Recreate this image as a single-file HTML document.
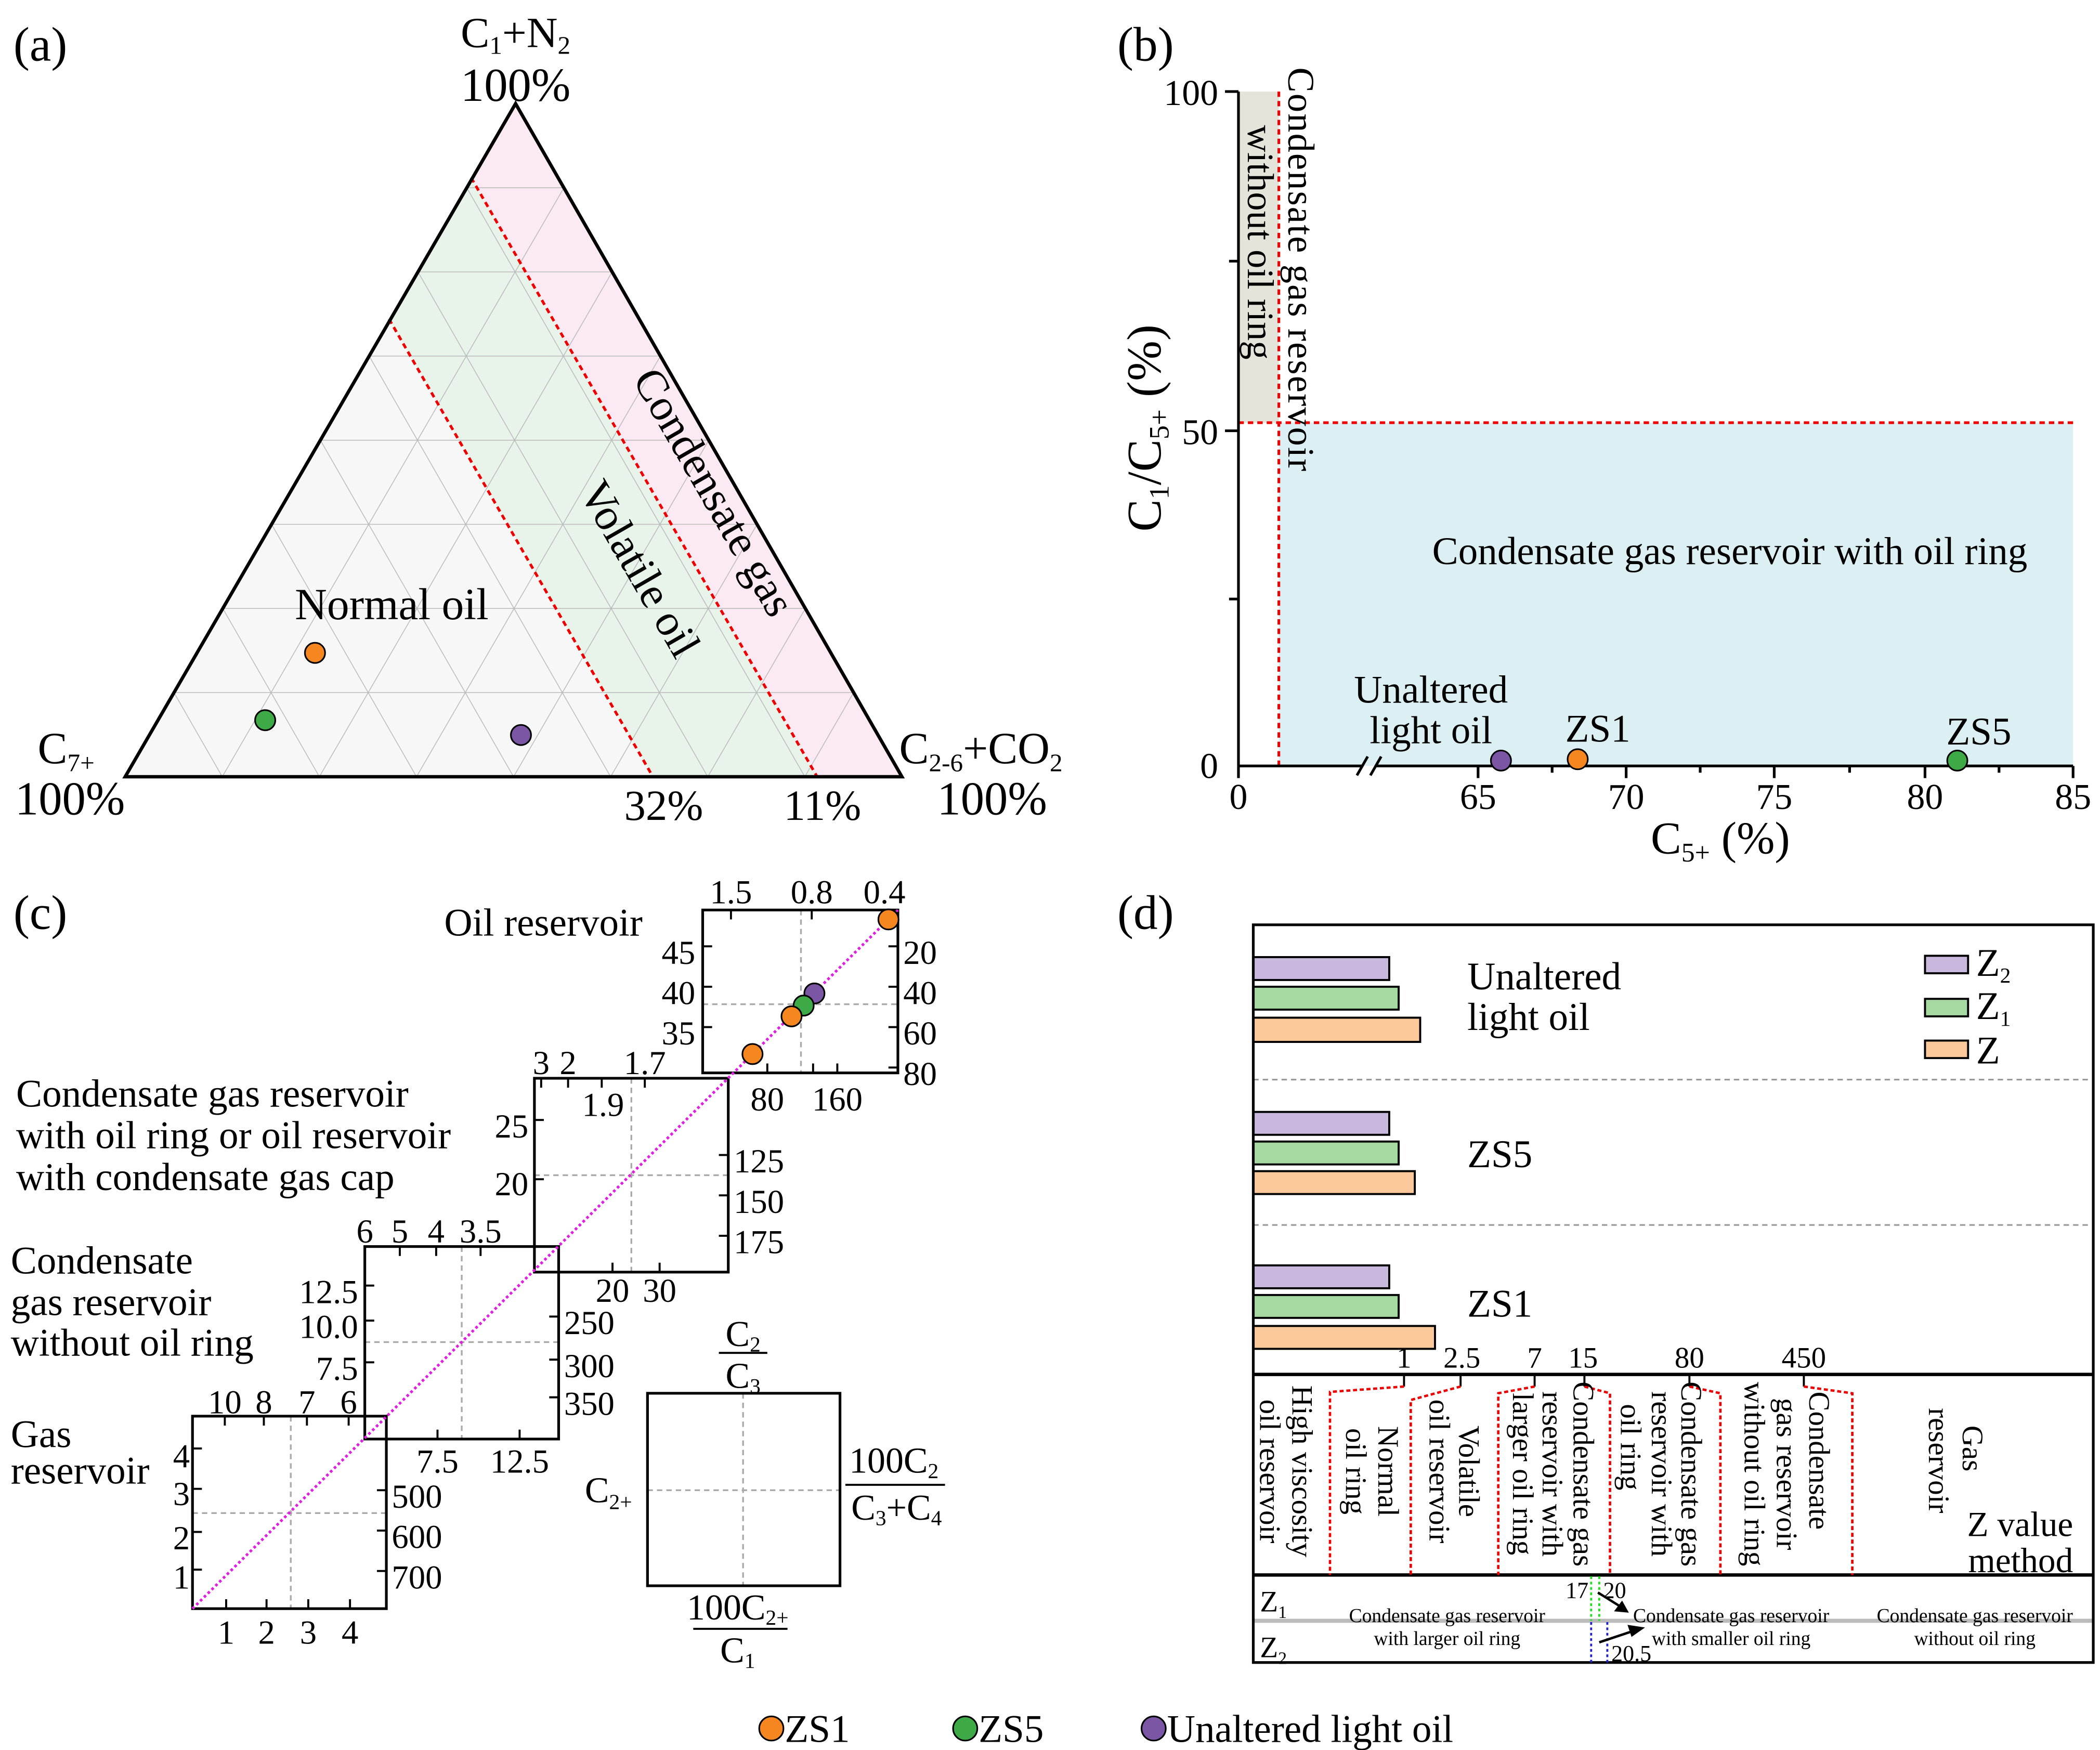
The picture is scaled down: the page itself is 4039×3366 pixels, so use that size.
<!DOCTYPE html>
<html><head><meta charset="utf-8"><style>
html,body{margin:0;padding:0;background:#fff;}
svg{display:block;}
text{font-family:"Liberation Serif",serif;fill:#000;}
</style></head><body>
<svg width="4039" height="3366" viewBox="0 0 1560 1300" preserveAspectRatio="none" xmlns="http://www.w3.org/2000/svg">
<rect width="1560" height="1300" fill="#fff"/>
<!-- ===== (a) ===== -->
<text x="10" y="45" font-size="36">(a)</text>
<polygon points="383,77 93,577 670,577" fill="#f7f7f7"/>
<polygon points="383,77 670,577 607,577 350,132" fill="#fbe9f4"/>
<polygon points="350,132 607,577 485,577 289,237" fill="#e8f3ea"/>
<g stroke="#bbb" stroke-width="0.6">
<line x1="346.75" y1="139.5" x2="418.9" y2="139.5"/><line x1="310.5" y1="202" x2="454.75" y2="202"/>
<line x1="274.25" y1="264.5" x2="490.6" y2="264.5"/><line x1="238" y1="327" x2="526.5" y2="327"/>
<line x1="201.75" y1="389.5" x2="562.4" y2="389.5"/><line x1="165.5" y1="452" x2="598.25" y2="452"/>
<line x1="129.25" y1="514.5" x2="634.1" y2="514.5"/>
<line x1="165.1" y1="577" x2="418.9" y2="139.5"/><line x1="237.25" y1="577" x2="454.75" y2="202"/>
<line x1="309.4" y1="577" x2="490.6" y2="264.5"/><line x1="381.5" y1="577" x2="526.5" y2="327"/>
<line x1="453.6" y1="577" x2="562.4" y2="389.5"/><line x1="525.75" y1="577" x2="598.25" y2="452"/>
<line x1="597.9" y1="577" x2="634.1" y2="514.5"/>
<line x1="165.1" y1="577" x2="129.25" y2="514.5"/><line x1="237.25" y1="577" x2="165.5" y2="452"/>
<line x1="309.4" y1="577" x2="201.75" y2="389.5"/><line x1="381.5" y1="577" x2="238" y2="327"/>
<line x1="453.6" y1="577" x2="274.25" y2="264.5"/><line x1="525.75" y1="577" x2="310.5" y2="202"/>
<line x1="597.9" y1="577" x2="346.75" y2="139.5"/>
</g>
<g stroke="#e00" stroke-width="2" stroke-dasharray="4,3">
<line x1="350" y1="132" x2="607" y2="577"/><line x1="289" y1="237" x2="485" y2="577"/>
</g>
<polygon points="383,77 93,577 670,577" fill="none" stroke="#000" stroke-width="2.5"/>
<circle cx="234" cy="485" r="7.5" fill="#f6861f" stroke="#000" stroke-width="1.2"/>
<circle cx="197" cy="535" r="7.5" fill="#3daa47" stroke="#000" stroke-width="1.2"/>
<circle cx="387" cy="546" r="7.5" fill="#7b56a4" stroke="#000" stroke-width="1.2"/>
<text x="383" y="35" font-size="32" text-anchor="middle">C<tspan font-size="19" dy="5">1</tspan><tspan dy="-5">+N</tspan><tspan font-size="19" dy="5">2</tspan></text>
<text x="383" y="75" font-size="35" text-anchor="middle">100%</text>
<text x="28" y="567" font-size="33">C<tspan font-size="19" dy="6">7+</tspan></text>
<text x="52" y="605" font-size="35" text-anchor="middle">100%</text>
<text x="668" y="567" font-size="33">C<tspan font-size="19" dy="6">2-6</tspan><tspan dy="-6">+CO</tspan><tspan font-size="19" dy="6">2</tspan></text>
<text x="737" y="605" font-size="35" text-anchor="middle">100%</text>
<text x="493" y="609" font-size="32" text-anchor="middle">32%</text>
<text x="611" y="609" font-size="32" text-anchor="middle">11%</text>
<text x="291" y="460" font-size="33" text-anchor="middle">Normal oil</text>
<text x="466" y="428" font-size="33" text-anchor="middle" transform="rotate(60 466 428)">Volatile oil</text>
<text x="521" y="371" font-size="33" text-anchor="middle" transform="rotate(60 521 371)">Condensate gas</text>

<!-- ===== (b) ===== -->
<text x="830" y="45" font-size="36">(b)</text>
<rect x="920" y="68" width="30" height="246" fill="#e5e4da"/>
<rect x="950" y="314" width="590" height="255" fill="#dcf0f4"/>
<g stroke="#e00" stroke-width="2" stroke-dasharray="4,3">
<line x1="950" y1="68" x2="950" y2="569"/><line x1="920" y1="314" x2="1540" y2="314"/>
</g>
<g stroke="#000" stroke-width="2" fill="none">
<line x1="920" y1="68" x2="920" y2="569"/>
<line x1="920" y1="569" x2="1012" y2="569"/><line x1="1022" y1="569" x2="1540" y2="569"/>
<line x1="1008" y1="576" x2="1016" y2="562"/><line x1="1018" y1="576" x2="1026" y2="562"/>
<line x1="910" y1="68" x2="920" y2="68"/><line x1="910" y1="320" x2="920" y2="320"/>
<line x1="913" y1="194" x2="920" y2="194"/><line x1="913" y1="445" x2="920" y2="445"/>
<line x1="920" y1="569" x2="920" y2="578"/>
<line x1="1098" y1="569" x2="1098" y2="578"/><line x1="1208" y1="569" x2="1208" y2="578"/>
<line x1="1318" y1="569" x2="1318" y2="578"/><line x1="1430" y1="569" x2="1430" y2="578"/>
<line x1="1540" y1="569" x2="1540" y2="578"/>
<line x1="1153" y1="569" x2="1153" y2="574"/><line x1="1263" y1="569" x2="1263" y2="574"/>
<line x1="1374" y1="569" x2="1374" y2="574"/><line x1="1485" y1="569" x2="1485" y2="574"/>
</g>
<text x="905" y="78" font-size="27" text-anchor="end">100</text>
<text x="905" y="330" font-size="27" text-anchor="end">50</text>
<text x="905" y="578" font-size="27" text-anchor="end">0</text>
<g font-size="27" text-anchor="middle">
<text x="920" y="601">0</text><text x="1098" y="601">65</text><text x="1208" y="601">70</text>
<text x="1318" y="601">75</text><text x="1430" y="601">80</text><text x="1540" y="601">85</text>
</g>
<text x="1278" y="634" font-size="34" text-anchor="middle">C<tspan font-size="20" dy="6">5+</tspan><tspan dy="-6"> (%)</tspan></text>
<text x="862" y="318" font-size="36" text-anchor="middle" transform="rotate(-90 862 318)">C<tspan font-size="21" dy="6">1</tspan><tspan dy="-6">/C</tspan><tspan font-size="21" dy="6">5+</tspan><tspan dy="-6"> (%)</tspan></text>
<text x="957" y="50" font-size="28" textLength="300" transform="rotate(90 957 50)">Condensate gas reservoir</text>
<text x="927" y="180" font-size="28" text-anchor="middle" transform="rotate(90 927 180)">without oil ring</text>
<text x="1285" y="419" font-size="29" text-anchor="middle">Condensate gas reservoir with oil ring</text>
<text x="1063" y="522" font-size="29" text-anchor="middle">Unaltered</text>
<text x="1063" y="552" font-size="29" text-anchor="middle">light oil</text>
<text x="1187" y="551" font-size="29" text-anchor="middle">ZS1</text>
<text x="1470" y="553" font-size="29" text-anchor="middle">ZS5</text>
<circle cx="1115" cy="565" r="7.5" fill="#7b56a4" stroke="#000" stroke-width="1.2"/>
<circle cx="1172" cy="564" r="7.5" fill="#f6861f" stroke="#000" stroke-width="1.2"/>
<circle cx="1454" cy="565" r="7.5" fill="#3daa47" stroke="#000" stroke-width="1.2"/>

<!-- ===== (c) ===== -->
<text x="10" y="690" font-size="36">(c)</text>
<g stroke="#aaa" stroke-width="1.3" stroke-dasharray="4,3">
<line x1="595" y1="676" x2="595" y2="797"/><line x1="522" y1="746" x2="667" y2="746"/>
<line x1="469" y1="801" x2="469" y2="945"/><line x1="397" y1="873" x2="541" y2="873"/>
<line x1="343" y1="926" x2="343" y2="1069"/><line x1="271" y1="997" x2="415" y2="997"/>
<line x1="216" y1="1052" x2="216" y2="1195"/><line x1="143" y1="1124" x2="287" y2="1124"/>
<line x1="552" y1="1035" x2="552" y2="1178"/><line x1="481" y1="1107" x2="624" y2="1107"/>
</g>
<g fill="none" stroke="#000" stroke-width="2">
<rect x="522" y="676" width="145" height="121"/>
<rect x="397" y="801" width="144" height="144"/>
<rect x="271" y="926" width="144" height="143"/>
<rect x="143" y="1052" width="144" height="143"/>
<rect x="481" y="1035" width="143" height="143"/>
</g>
<g stroke="#000" stroke-width="1.5">
<line x1="543" y1="676" x2="543" y2="683"/><line x1="603" y1="676" x2="603" y2="683"/><line x1="657" y1="676" x2="657" y2="683"/>
<line x1="570" y1="797" x2="570" y2="790"/><line x1="622" y1="797" x2="622" y2="790"/><line x1="604" y1="797" x2="604" y2="790"/>
<line x1="522" y1="703" x2="529" y2="703"/><line x1="522" y1="733" x2="529" y2="733"/><line x1="522" y1="763" x2="529" y2="763"/>
<line x1="667" y1="703" x2="660" y2="703"/><line x1="667" y1="733" x2="660" y2="733"/><line x1="667" y1="763" x2="660" y2="763"/><line x1="667" y1="793" x2="660" y2="793"/>
<line x1="402" y1="801" x2="402" y2="808"/><line x1="422" y1="801" x2="422" y2="808"/><line x1="447" y1="801" x2="447" y2="808"/><line x1="479" y1="801" x2="479" y2="808"/>
<line x1="455" y1="945" x2="455" y2="938"/><line x1="490" y1="945" x2="490" y2="938"/>
<line x1="397" y1="832" x2="404" y2="832"/><line x1="397" y1="876" x2="404" y2="876"/>
<line x1="541" y1="858" x2="534" y2="858"/><line x1="541" y1="888" x2="534" y2="888"/><line x1="541" y1="918" x2="534" y2="918"/>
<line x1="297" y1="926" x2="297" y2="933"/><line x1="324" y1="926" x2="324" y2="933"/><line x1="357" y1="926" x2="357" y2="933"/>
<line x1="325" y1="1069" x2="325" y2="1062"/><line x1="386" y1="1069" x2="386" y2="1062"/>
<line x1="271" y1="955" x2="278" y2="955"/><line x1="271" y1="981" x2="278" y2="981"/><line x1="271" y1="1012" x2="278" y2="1012"/>
<line x1="415" y1="978" x2="408" y2="978"/><line x1="415" y1="1010" x2="408" y2="1010"/><line x1="415" y1="1038" x2="408" y2="1038"/>
<line x1="167" y1="1052" x2="167" y2="1059"/><line x1="196" y1="1052" x2="196" y2="1059"/><line x1="228" y1="1052" x2="228" y2="1059"/><line x1="259" y1="1052" x2="259" y2="1059"/>
<line x1="168" y1="1195" x2="168" y2="1188"/><line x1="198" y1="1195" x2="198" y2="1188"/><line x1="229" y1="1195" x2="229" y2="1188"/><line x1="260" y1="1195" x2="260" y2="1188"/>
<line x1="143" y1="1076" x2="150" y2="1076"/><line x1="143" y1="1106" x2="150" y2="1106"/><line x1="143" y1="1138" x2="150" y2="1138"/><line x1="143" y1="1166" x2="150" y2="1166"/>
<line x1="287" y1="1107" x2="280" y2="1107"/><line x1="287" y1="1137" x2="280" y2="1137"/><line x1="287" y1="1167" x2="280" y2="1167"/>
</g>
<line x1="143" y1="1195" x2="667" y2="676" stroke="#e020e0" stroke-width="2" stroke-dasharray="2,2"/>
<circle cx="660" cy="683" r="7.5" fill="#f6861f" stroke="#000" stroke-width="1.2"/>
<circle cx="605" cy="738" r="7.5" fill="#7b56a4" stroke="#000" stroke-width="1.2"/>
<circle cx="597" cy="747" r="7.5" fill="#3daa47" stroke="#000" stroke-width="1.2"/>
<circle cx="588" cy="755" r="7.5" fill="#f6861f" stroke="#000" stroke-width="1.2"/>
<circle cx="559" cy="783" r="7.5" fill="#f6861f" stroke="#000" stroke-width="1.2"/>
<g font-size="25" text-anchor="middle">
<text x="543" y="671">1.5</text><text x="603" y="671">0.8</text><text x="657" y="671">0.4</text>
<text x="504" y="716">45</text><text x="504" y="746">40</text><text x="504" y="776">35</text>
<text x="570" y="825">80</text><text x="622" y="825">160</text>
<text x="402" y="798">3</text><text x="422" y="798">2</text><text x="479" y="798">1.7</text><text x="448" y="829">1.9</text>
<text x="380" y="845">25</text><text x="380" y="888">20</text>
<text x="455" y="967">20</text><text x="490" y="967">30</text>
<text x="271" y="923">6</text><text x="297" y="923">5</text><text x="324" y="923">4</text><text x="357" y="923">3.5</text>
<text x="325" y="1094">7.5</text><text x="386" y="1094">12.5</text>
<text x="167" y="1050">10</text><text x="196" y="1050">8</text><text x="228" y="1050">7</text><text x="259" y="1050">6</text>
<text x="168" y="1221">1</text><text x="198" y="1221">2</text><text x="229" y="1221">3</text><text x="260" y="1221">4</text>
</g>
<g font-size="25">
<text x="671" y="716">20</text><text x="671" y="746">40</text><text x="671" y="776">60</text><text x="671" y="806">80</text>
<text x="545" y="871">125</text><text x="545" y="901">150</text><text x="545" y="931">175</text>
<text x="419" y="991">250</text><text x="419" y="1023">300</text><text x="419" y="1051">350</text>
<text x="291" y="1120">500</text><text x="291" y="1150">600</text><text x="291" y="1180">700</text>
</g>
<g font-size="25" text-anchor="end">
<text x="266" y="968">12.5</text><text x="266" y="994">10.0</text><text x="266" y="1025">7.5</text>
<text x="141" y="1090">4</text><text x="141" y="1118">3</text><text x="141" y="1151">2</text><text x="141" y="1180">1</text>
</g>
<g font-size="29">
<text x="330" y="695">Oil reservoir</text>
<text x="12" y="822">Condensate  gas reservoir</text>
<text x="12" y="853">with oil ring or oil reservoir</text>
<text x="12" y="884">with condensate gas cap</text>
<text x="8" y="946">Condensate</text>
<text x="8" y="977">gas reservoir</text>
<text x="8" y="1007">without oil ring</text>
<text x="8" y="1075">Gas</text>
<text x="8" y="1102">reservoir</text>
</g>
<g font-size="27" text-anchor="middle">
<text x="552" y="1000">C<tspan font-size="16" dy="4">2</tspan></text>
<line x1="534" y1="1005" x2="570" y2="1005" stroke="#000" stroke-width="1.5"/>
<text x="552" y="1031">C<tspan font-size="16" dy="4">3</tspan></text>
<text x="452" y="1116">C<tspan font-size="16" dy="5">2+</tspan></text>
<text x="664" y="1094">100C<tspan font-size="16" dy="4">2</tspan></text>
<line x1="628" y1="1103" x2="702" y2="1103" stroke="#000" stroke-width="1.5"/>
<text x="666" y="1129">C<tspan font-size="16" dy="4">3</tspan><tspan dy="-4">+C</tspan><tspan font-size="16" dy="4">4</tspan></text>
<text x="548" y="1203">100C<tspan font-size="16" dy="4">2+</tspan></text>
<line x1="515" y1="1210" x2="585" y2="1210" stroke="#000" stroke-width="1.5"/>
<text x="548" y="1235">C<tspan font-size="16" dy="4">1</tspan></text>
</g>
<!-- legend -->
<circle cx="573" cy="1284" r="9" fill="#f6861f" stroke="#000" stroke-width="1.2"/>
<text x="583" y="1294" font-size="29">ZS1</text>
<circle cx="717" cy="1284" r="9" fill="#3daa47" stroke="#000" stroke-width="1.2"/>
<text x="727" y="1294" font-size="29">ZS5</text>
<circle cx="857" cy="1284" r="9" fill="#7b56a4" stroke="#000" stroke-width="1.2"/>
<text x="867" y="1294" font-size="29">Unaltered light oil</text>

<!-- ===== (d) ===== -->
<text x="830" y="690" font-size="36">(d)</text>
<g stroke="#999" stroke-width="1.2" stroke-dasharray="4,3">
<line x1="931" y1="802" x2="1555" y2="802"/><line x1="931" y1="910" x2="1555" y2="910"/>
</g>
<g stroke="#000" stroke-width="1.5">
<rect x="931" y="711" width="101" height="17" fill="#c9b8de"/>
<rect x="931" y="733" width="108" height="17" fill="#a6d9a1"/>
<rect x="931" y="756" width="124" height="18" fill="#fbc89b"/>
<rect x="931" y="826" width="101" height="17" fill="#c9b8de"/>
<rect x="931" y="848" width="108" height="17" fill="#a6d9a1"/>
<rect x="931" y="870" width="120" height="17" fill="#fbc89b"/>
<rect x="931" y="940" width="101" height="17" fill="#c9b8de"/>
<rect x="931" y="962" width="108" height="17" fill="#a6d9a1"/>
<rect x="931" y="985" width="135" height="17" fill="#fbc89b"/>
<rect x="1430" y="710" width="32" height="13" fill="#c9b8de"/>
<rect x="1430" y="742" width="32" height="13" fill="#a6d9a1"/>
<rect x="1430" y="773" width="32" height="13" fill="#fbc89b"/>
</g>
<g font-size="29">
<text x="1090" y="735">Unaltered</text><text x="1090" y="765">light oil</text>
<text x="1090" y="867">ZS5</text><text x="1090" y="978">ZS1</text>
<text x="1468" y="725">Z<tspan font-size="16" dy="5">2</tspan></text>
<text x="1468" y="757">Z<tspan font-size="16" dy="5">1</tspan></text>
<text x="1468" y="790">Z</text>
</g>
<line x1="931" y1="1204" x2="1555" y2="1204" stroke="#bbb" stroke-width="3"/>
<rect x="931" y="687" width="624" height="548" fill="none" stroke="#000" stroke-width="2"/>
<line x1="931" y1="1021" x2="1555" y2="1021" stroke="#000" stroke-width="2.5"/>
<line x1="931" y1="1170" x2="1555" y2="1170" stroke="#000" stroke-width="2.5"/>
<g font-size="22" text-anchor="middle">
<text x="1043" y="1016">1</text><text x="1086" y="1016">2.5</text><text x="1140" y="1016">7</text>
<text x="1176" y="1016">15</text><text x="1255" y="1016">80</text><text x="1340" y="1016">450</text>
</g>
<g stroke="#000" stroke-width="1.5">
<line x1="1043" y1="1021" x2="1043" y2="1030"/><line x1="1085" y1="1021" x2="1085" y2="1030"/>
<line x1="1140" y1="1021" x2="1140" y2="1030"/><line x1="1177" y1="1021" x2="1177" y2="1030"/>
<line x1="1255" y1="1021" x2="1255" y2="1030"/><line x1="1340" y1="1021" x2="1340" y2="1030"/>
</g>
<g fill="none" stroke="#e00" stroke-width="1.8" stroke-dasharray="3,2">
<polyline points="1043,1030 988,1034 988,1170"/>
<polyline points="1085,1030 1048,1040 1048,1170"/>
<polyline points="1140,1030 1113,1035 1113,1170"/>
<polyline points="1177,1030 1196,1035 1196,1170"/>
<polyline points="1255,1030 1278,1035 1278,1170"/>
<polyline points="1340,1030 1376,1035 1376,1170"/>
</g>
<g font-size="22" text-anchor="middle">
<text transform="translate(960,1093) rotate(90)">High viscosity</text>
<text transform="translate(936,1093) rotate(90)">oil reservoir</text>
<text transform="translate(1024,1093) rotate(90)">Normal</text>
<text transform="translate(1000,1093) rotate(90)">oil ring</text>
<text transform="translate(1084,1093) rotate(90)">Volatile</text>
<text transform="translate(1062,1093) rotate(90)">oil reservoir</text>
<text transform="translate(1169,1095) rotate(90)">Condensate gas</text>
<text transform="translate(1146,1095) rotate(90)">reservoir with</text>
<text transform="translate(1124,1095) rotate(90)">larger oil ring</text>
<text transform="translate(1249,1095) rotate(90)">Condensate gas</text>
<text transform="translate(1227,1095) rotate(90)">reservoir with</text>
<text transform="translate(1204,1075) rotate(90)">oil ring</text>
<text transform="translate(1344,1085) rotate(90)">Condensate</text>
<text transform="translate(1320,1095) rotate(90)">gas reservoir</text>
<text transform="translate(1296,1095) rotate(90)">without oil ring</text>
<text transform="translate(1458,1076) rotate(90)">Gas</text>
<text transform="translate(1433,1085) rotate(90)">reservoir</text>
</g>
<text x="1540" y="1141" font-size="26" text-anchor="end">Z value</text>
<text x="1540" y="1168" font-size="26" text-anchor="end">method</text>
<text x="936" y="1197" font-size="22">Z<tspan font-size="13" dy="5">1</tspan></text>
<text x="936" y="1231" font-size="22">Z<tspan font-size="13" dy="5">2</tspan></text>
<g stroke-width="1.5" stroke-dasharray="2,2">
<line x1="1182" y1="1171" x2="1182" y2="1204" stroke="#2d2"/>
<line x1="1188" y1="1171" x2="1188" y2="1204" stroke="#2d2"/>
<line x1="1182" y1="1205" x2="1182" y2="1235" stroke="#22c"/>
<line x1="1194" y1="1205" x2="1194" y2="1235" stroke="#22c"/>
</g>
<g font-size="17">
<text x="1180" y="1187" text-anchor="end">17</text>
<text x="1191" y="1187">20</text>
<text x="1197" y="1234">20.5</text>
</g>
<g stroke="#000" stroke-width="1.8">
<line x1="1187" y1="1183" x2="1203" y2="1193"/>
<line x1="1188" y1="1220" x2="1212" y2="1212"/>
</g>
<polygon points="1210,1198 1199,1197 1205,1189" fill="#000"/>
<polygon points="1222,1209 1212,1216 1209,1207" fill="#000"/>
<g font-size="14.5" text-anchor="middle">
<text x="1075" y="1205">Condensate gas reservoir</text>
<text x="1075" y="1222">with larger oil ring</text>
<text x="1286" y="1205">Condensate gas reservoir</text>
<text x="1286" y="1222">with smaller oil ring</text>
<text x="1467" y="1205">Condensate gas reservoir</text>
<text x="1467" y="1222">without oil ring</text>
</g>
</svg>
</body></html>
